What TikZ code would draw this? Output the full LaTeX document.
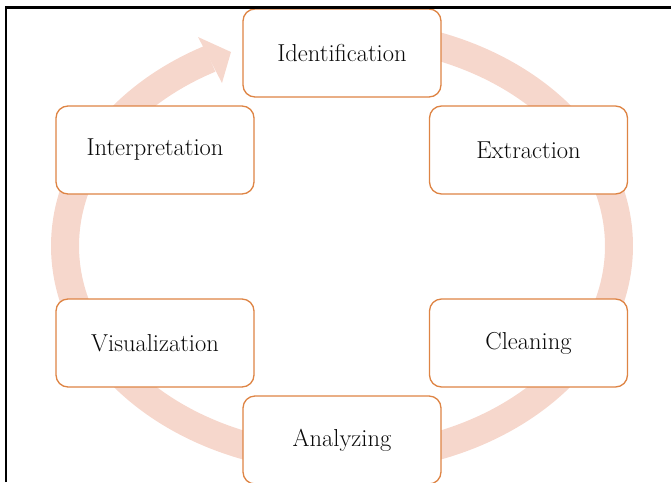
\documentclass[tikz,border=0pt]{standalone}
\usetikzlibrary{calc}
\definecolor{ringpink}{RGB}{246,215,204}
\definecolor{boxorange}{RGB}{222,132,68}
\definecolor{txt}{RGB}{10,10,10}
\tikzset{
  stagebox/.style={draw=boxorange, line width=1.3pt, fill=white, rounded corners=12pt,
    minimum width=198pt, minimum height=88pt, inner sep=0pt, text=txt,
    font=\fontsize{24.5}{28}\selectfont},
  ring/.style={draw=ringpink, line width=28pt, line cap=butt},
  frame/.style={draw=black, line width=2.4pt}
}
\begin{document}
\begin{tikzpicture}[x=1pt, y=-1pt]
  \useasboundingbox (0,0) rectangle (671,482);
  \clip (0,0) rectangle (671,482);
  % circular arrow
  \draw[ring] plot[domain=-80:241.5, samples=160, smooth] ({342+277*cos(\x)},{246+213*sin(\x)});
  \coordinate (tip) at (231,52);
  \coordinate (hl) at (198,37);
  \coordinate (hr) at (222,83);
  \fill[ringpink] (hl) -- (tip) -- (hr) -- cycle;
  % stages
  \node[stagebox] (ident) at (342,53) {Identification};
  \node[stagebox] (extr) at (528.5,150) {Extraction};
  \node[stagebox] (clean) at (528.5,343) {Cleaning};
  \node[stagebox] (anal) at (342,440) {Analyzing};
  \node[stagebox] (visu) at (155,343) {Visualization};
  \node[stagebox] (interp) at (155,150) {Interpretation};
  % frame
  \draw[frame] (6.2,482) -- (6.2,7.3) -- (671,7.3);
\end{tikzpicture}
\end{document}
